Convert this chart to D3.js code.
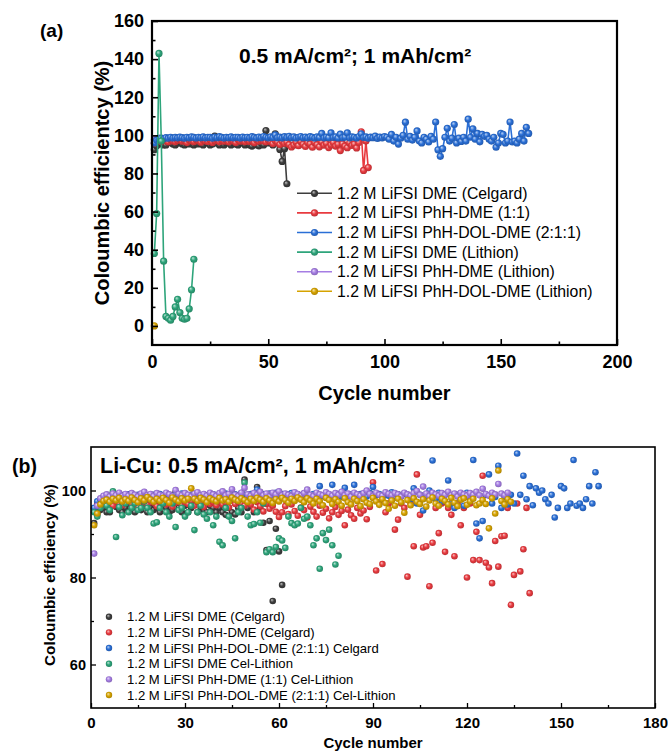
<!DOCTYPE html>
<html><head><meta charset="utf-8">
<script src="https://cdn.jsdelivr.net/npm/d3@7"></script>
<style>
body{margin:0;background:#fff}
svg{display:block}
text{font-family:"Liberation Sans",Arial,sans-serif;fill:#000}
</style>
</head><body>
<svg id="c" width="668" height="753"></svg>
<script>
// ---------------- DATA ----------------
// cycle number = index + 1
const blackCelgard = [
 92.5,94.5,95.5,96,95,95,96.5,96.2,95.5,95,
 96,97,95.5,95,96,95.5,96.5,95,96,95.5,
 96,95,96.6,96,95,95.5,99.6,96,95,96.5,
 95,96,97,95,96,95.5,95,96.5,96,95,
 96,95,94.4,96,95,94.5,96,95,102.5,96,
 98.4,95,100.8,96,92.6,86.3,93,74.6,91.2,86,78.3];
const redPhHDME = [
 95.9,97,97.5,96.8,97.6,97.2,96.5,97.8,97,96.6,
 97.4,97.9,96.9,97.3,96.2,97.6,97.1,96.7,97.8,97.2,
 96.4,97.5,97,96.8,97.7,96.3,97.2,97.9,96.6,97.3,
 96.9,97.6,96.5,97.4,97.1,96.2,97.8,96.9,97.3,96.6,
 97.5,96.8,97.2,96.1,97.7,96.9,97.4,97,96.5,97.6,
 96.8,95.6,97.3,96.4,95.2,96.9,95.8,96.5,95.1,93.9,
 95,96.4,94.6,96.8,95.3,94.2,96.1,95.5,93.8,96.3,
 95.1,94,96.5,94.9,95.8,93.6,95,96.2,94.4,95.3,
 92,95.6,94.3,93.5,96,94.7,95.4,93.4,96.2,
 101.9,81.6,97,83.1,95,97,98,91,93.3,97,
 96,80.2,97,87.2,103.7,94.4,86.9,87.2,78,88,
 96,90.2,97,85.9,96,94.4,84.9,97,92,96,
 80,97,84,90.5,84,103.4,83.4,82.3,78.7,88.4,
 82.5,89.5,89.6,96,73.7,80.6,97,81.4,86.5,96,76.4];
const bluePhHDOLDME = [
 96,97.5,98,98.5,98.2,98.8,98.5,99,98.6,98.9,
 98.7,99.1,98.8,98.5,99,98.7,99.2,98.9,98.6,99,
 98.8,99.2,98.7,99,98.9,98.5,99.1,98.8,99.3,98.9,
 98.6,99,98.8,99.2,98.7,99,98.9,98.6,99.1,98.8,
 99,98.7,99.3,98.9,98.6,99.1,98.8,99.4,99,98.7,
 99.2,98.9,100.2,98.8,99.1,98.7,99.3,98.9,99.5,98.8,
 99.2,98.6,99,99.4,98.8,99.1,98.7,99.3,99,98.6,
 99.2,98.9,101,98.7,99.1,98.8,101.3,98.9,99.2,98.6,
 100.6,98.8,99.1,101.3,98.7,99.2,99,98.6,99.4,100.8,
 98.9,99.2,98.5,99.1,98.8,99.6,98.4,99.1,98.7,99.3,
 99,98,100.5,97,99,95.4,98.5,100,106.9,98,
 99.5,97.5,99,102.3,97,96,99,98,96.5,99.5,
 98,107,92.4,89,93,99,103.7,97,98.5,105.7,
 96,98.5,96.8,99,97,108.5,99,103.4,98,101,
 96.6,100.5,99.5,100,98,97,99,93.8,96,101,
 100.5,96,97,107,96.5,97,96,98,101,97,104.2,101];
const greenCelLithion = [
 95,94,96,97,96.5,95.5,99.8,89.3,96.2,94.3,
 97,95,96,97,95.5,96,97.5,96,95,92.4,
 92.7,96,97,95,94,97,91.6,95.5,96,94,
 95,96.5,90.9,95,96.5,94.5,93.5,95,92,94,
 88.2,87.4,96,94,93,89,95,96,101.8,94,
 92,92.3,95,92.6,97,85.8,86.5,85.8,87,89,
 88.5,86.8,94,92.5,92,92.4,96,93.5,94,92,
 87.4,89,82,90.2,88.6,91,87.4,83,85];
const purpleCelLithion = [
 85.5,96.5,98.2,98.8,99.1,98.6,99.3,98.9,99.5,98.7,
 99.2,98.8,99.4,99,98.6,99.3,99.7,98.9,99.2,98.7,
 99.4,99,98.8,99.5,99.1,98.7,100.1,99.2,98.9,99.4,
 99,98.6,99.3,99.6,98.9,99.2,98.8,99.5,99.1,98.7,
 99.4,99.8,98.9,99.2,100.3,99,98.7,99.5,100.6,99.1,
 98.8,99.4,99,99.7,98.9,99.3,98.6,99.5,99.1,99.8,
 98.9,99.3,99,98.7,99.6,99.2,98.8,99.4,100.2,99,
 98.7,99.5,99.1,98.9,99.6,99.2,98.8,99.4,99,99.7,
 98.9,99.3,98.6,99.5,99.1,98.8,99.4,100,99.2,98.7,
 99.5,99,98.8,99.6,99.2,98.9,99.4,99.1,98.6,99.5,
 99.1,98.8,99.4,99.9,99,100.9,99.3,98.7,99.5,99.1,
 98.8,99.4,99,99.7,98.9,99.3,98.6,99.5,99.1,98.8,
 99.4,99,99.7,98.9,100.4,99.2,98.8,99.5,99.1,101.5,
 99.3,98.9,99.5];
const yellowCelLithion = [
 92,94.7,96.8,97.6,97.9,97.4,98.1,97.7,98.3,97.5,
 98,97.6,98.4,97.8,97.3,98.2,97.7,98.5,97.9,97.4,
 98.1,97.6,98.3,97.8,97.2,98.4,97.9,97.5,98.2,97.7,
 98.1,100.5,98.1,97.6,98.3,97.9,97.3,98.2,97.8,97.5,
 98.3,97.7,98,97.4,98.4,97.9,97.6,98.2,97.8,97.3,
 98.1,97.6,98.3,97.9,97.4,98.2,97.7,97.1,98,97.5,
 98.3,97.8,97.2,98.1,97.6,98.4,97.9,97.3,98.2,97.7,
 97,98.1,97.5,96.6,98.3,97.8,96.9,98,97.4,96.5,
 98.2,97.3,96.8,98.1,97.6,96.4,98,97.2,96.9,98.3,
 97.5,96.7,98,97.1,95.8,97.7,96.5,98.1,97.3,94.9,
 97.8,96.6,98.2,97.4,96.9,98,96.3,97.7,98.4,97,
 96.5,98.1,97.6,96.8,98.3,97.2,96.4,97.9,98.2,96.7,
 97.5,98.1,96.6,97,97.8,96.9,91.3,98.2,94.7,104.6,
 97.6,96.8,98,97.4];
// panel (a) specific
const greenLithionA = [38,59,143,97,34,5,4,3,5,10,14,7,4,3.5,4,9,19,35];
const purpleLithionA = [97.5,98.2,98.6];
const yellowLithionA = [0];
const blackCyclesA = 58;   // last cycle plotted in (a)
const redCyclesA = 93;

const legendA = ["1.2 M LiFSI DME (Celgard)","1.2 M LiFSI PhH-DME (1:1)","1.2 M LiFSI PhH-DOL-DME (2:1:1)",
 "1.2 M LiFSI DME (Lithion)","1.2 M LiFSI PhH-DME (Lithion)","1.2 M LiFSI PhH-DOL-DME (Lithion)"];
const legendB = ["1.2 M LiFSI DME (Celgard)","1.2 M LiFSI PhH-DME (Celgard)","1.2 M LiFSI PhH-DOL-DME (2:1:1) Celgard",
 "1.2 M LiFSI DME Cel-Lithion","1.2 M LiFSI PhH-DME (1:1) Cel-Lithion","1.2 M LiFSI PhH-DOL-DME (2:1:1) Cel-Lithion"];
const xTicksA = [0,50,100,150,200], xMinorA = [25,75,125,175];
const yTicksA = [0,20,40,60,80,100,120,140,160], yMinorA = [10,30,50,70,90,110,130,150];
const xTicksB = [0,30,60,90,120,150,180], xMinorB = [15,45,75,105,135,165];
const yTicksB = [60,80,100], yMinorB = [70,90];

const colorList = ["#3d3d3d","#e83a3f","#2a6fd6","#2ea57b","#a57de3","#d6a300"];

// ---------------- DRAW ----------------
const svg = d3.select("#c");
const defs = svg.append("defs");
colorList.forEach((c,i)=>{
  const g = defs.append("radialGradient").attr("id","ball"+i)
    .attr("cx","50%").attr("cy","50%").attr("r","55%").attr("fx","35%").attr("fy","32%");
  g.append("stop").attr("offset","0%").attr("stop-color",d3.interpolateRgb(c,"#fff")(0.7));
  g.append("stop").attr("offset","50%").attr("stop-color",c);
  g.append("stop").attr("offset","100%").attr("stop-color",d3.color(c).darker(0.7));
});

function drawAxes(g, x, y, box, o){
  const ax = g.append("g").attr("transform",`translate(0,${box.b})`)
    .call(d3.axisBottom(x).tickValues(o.xt).tickSize(-o.major).tickPadding(o.xpad).tickFormat(d3.format("d")));
  const axm = g.append("g").attr("transform",`translate(0,${box.b})`)
    .call(d3.axisBottom(x).tickValues(o.xm).tickSize(-o.minor).tickFormat(""));
  const ay = g.append("g").attr("transform",`translate(${box.l},0)`)
    .call(d3.axisLeft(y).tickValues(o.yt).tickSize(-o.major).tickPadding(o.ypad).tickFormat(d3.format("d")));
  const aym = g.append("g").attr("transform",`translate(${box.l},0)`)
    .call(d3.axisLeft(y).tickValues(o.ym).tickSize(-o.minor).tickFormat(""));
  [ax,axm,ay,aym].forEach(a=>{
    a.select(".domain").remove();
    a.selectAll(".tick line").attr("stroke","#000").attr("stroke-width",o.tw);
    a.selectAll("text").attr("font-size",o.fs).attr("font-weight","bold").attr("fill","#000")
      .attr("font-family",'"Liberation Sans",Arial,sans-serif');
  });
  ax.selectAll("text").attr("font-size",o.xfs||o.fs);
  g.append("rect").attr("x",box.l).attr("y",box.t).attr("width",box.r-box.l).attr("height",box.b-box.t)
    .attr("fill","none").attr("stroke","#000").attr("stroke-width",o.fw);
}

// ===== Panel (a) =====
const A = {l:152,r:617,t:21,b:345};
const xA = d3.scaleLinear().domain([0,200]).range([A.l,A.r]);
const yA = d3.scaleLinear().domain([-10,160]).range([A.b,A.t]);
const gA = svg.append("g");
const seriesA = [
  blackCelgard.slice(0,blackCyclesA),
  redPhHDME.slice(0,redCyclesA),
  bluePhHDOLDME,
  greenLithionA,
  purpleLithionA,
  yellowLithionA
];
// draw order: purple, yellow first (hidden), then black, red, blue, green
const orderA = [4,5,0,1,2,3];
const lineA = d3.line().x((d,i)=>xA(i+1)).y(d=>yA(d));
orderA.forEach(k=>{
  const s = seriesA[k];
  gA.append("path").attr("d",lineA(s)).attr("fill","none").attr("stroke",colorList[k]).attr("stroke-width",1.6);
  gA.selectAll(null).data(s).enter().append("circle")
    .attr("cx",(d,i)=>xA(i+1)).attr("cy",d=>yA(d)).attr("r",3.6)
    .attr("fill",`url(#ball${k})`);
});
drawAxes(gA,xA,yA,A,{xt:xTicksA,xm:xMinorA,yt:yTicksA,ym:yMinorA,major:6,minor:3.5,xpad:10,ypad:8,fs:18,tw:1.6,fw:2.2});

gA.append("text").attr("x",40).attr("y",37).attr("font-size",19).attr("font-weight","bold").text("(a)");
gA.append("text").attr("x",239).attr("y",63).attr("font-size",21).attr("font-weight","bold").text("0.5 mA/cm²; 1 mAh/cm²");
gA.append("text").attr("transform",`translate(109,183) rotate(-90)`).attr("text-anchor","middle")
  .attr("font-size",20).attr("font-weight","bold").text("Coloumbic efficientcy (%)");
gA.append("text").attr("x",(A.l+A.r)/2).attr("y",400).attr("text-anchor","middle")
  .attr("font-size",20).attr("font-weight","bold").text("Cycle number");

const legA = gA.append("g");
legendA.forEach((t,i)=>{
  const yy = 193.3 + i*19.6;
  legA.append("line").attr("x1",297).attr("x2",332).attr("y1",yy).attr("y2",yy).attr("stroke",colorList[i]).attr("stroke-width",1.6);
  legA.append("circle").attr("cx",314.5).attr("cy",yy).attr("r",3.6).attr("fill",`url(#ball${i})`);
  legA.append("text").attr("x",337).attr("y",yy).attr("dy","0.35em").attr("font-size",15.8).text(t);
});

// ===== Panel (b) =====
const B = {l:91,r:655,t:447,b:708};
const xB = d3.scaleLinear().domain([0,180]).range([B.l,B.r]);
const yB = d3.scaleLinear().domain([50,110]).range([B.b,B.t]);
const gB = svg.append("g");
const seriesB = [blackCelgard, redPhHDME, bluePhHDOLDME, greenCelLithion, purpleCelLithion, yellowCelLithion];
seriesB.forEach((s,k)=>{
  gB.selectAll(null).data(s).enter().append("circle")
    .attr("cx",(d,i)=>xB(i+1)).attr("cy",d=>yB(d)).attr("r",3.3)
    .attr("fill",`url(#ball${k})`);
});
drawAxes(gB,xB,yB,B,{xt:xTicksB,xm:xMinorB,yt:yTicksB,ym:yMinorB,major:5,minor:3,xpad:9,ypad:5,fs:14.5,xfs:15,tw:1.3,fw:1.6});

gB.append("text").attr("x",12).attr("y",473).attr("font-size",19.5).attr("font-weight","bold").text("(b)");
gB.append("text").attr("x",100).attr("y",473).attr("font-size",21.5).attr("font-weight","bold").text("Li-Cu: 0.5 mA/cm², 1 mAh/cm²");
gB.append("text").attr("transform",`translate(55,575) rotate(-90)`).attr("text-anchor","middle")
  .attr("font-size",15.3).attr("font-weight","bold").text("Coloumbic efficiency (%)");
gB.append("text").attr("x",(B.l+B.r)/2).attr("y",748).attr("text-anchor","middle")
  .attr("font-size",15).attr("font-weight","bold").text("Cycle number");

const legB = gB.append("g");
legendB.forEach((t,i)=>{
  const yy = 616.7 + i*15.66;
  legB.append("circle").attr("cx",109).attr("cy",yy).attr("r",3.2).attr("fill",`url(#ball${i})`);
  legB.append("text").attr("x",127).attr("y",yy).attr("dy","0.35em").attr("font-size",13.1).attr("fill","#222").text(t);
});
</script>
</body></html>
